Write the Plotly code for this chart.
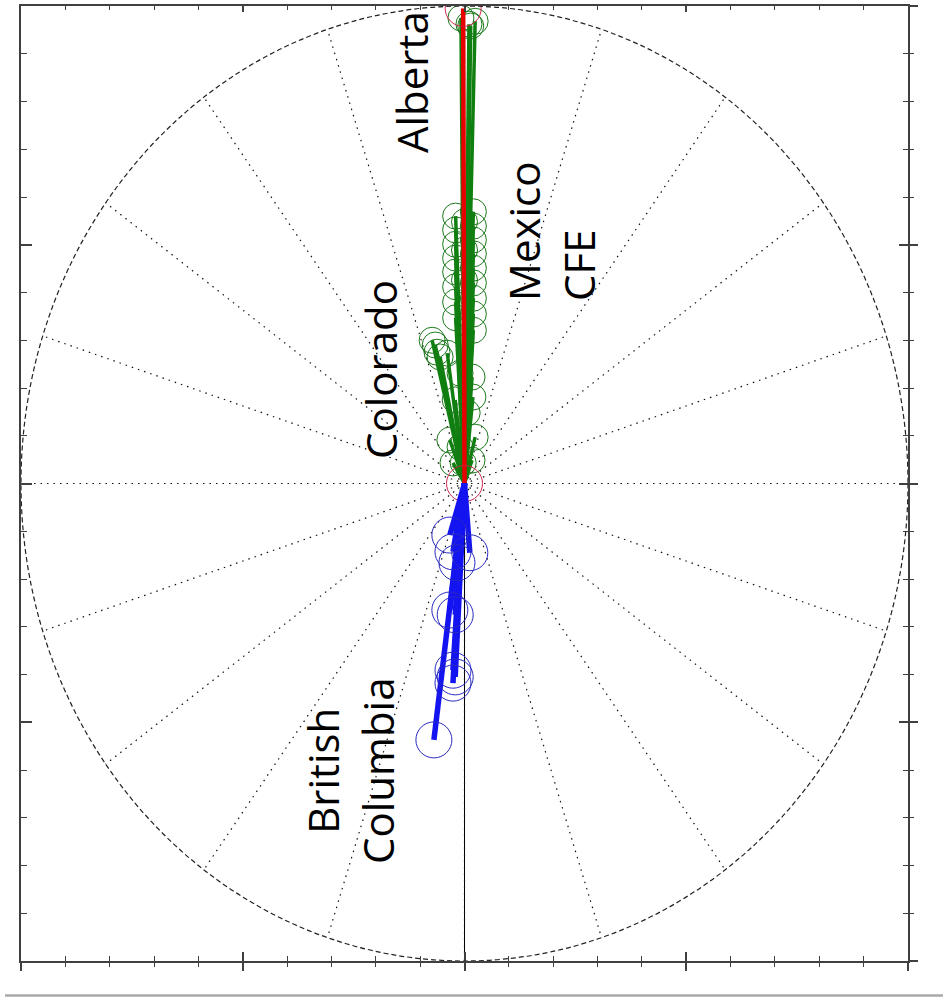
import math
import plotly.graph_objects as go

# Phasor components (real, imaginary), per-unit of the reference circle
alberta_re = [-0.003, 0.000]
alberta_im = [0.995, 0.000]

colorado_re = [-0.008, 0.024, 0.014, 0.010,
               -0.020, -0.020, -0.020, -0.020, -0.020, -0.020, -0.020, -0.020,
               0.020, 0.020, 0.020, 0.020, 0.020, 0.020, 0.020, 0.020, 0.020,
               0.000, 0.000, 0.000,
               -0.066, -0.062, -0.055, -0.073, -0.039,
               0.017, 0.019, -0.021, -0.033, 0.024, -0.026, 0.017, -0.010, 0.006, -0.010, -0.003]
colorado_im = [0.975, 0.968, 0.958, 0.962,
               0.560, 0.531, 0.501, 0.472, 0.443, 0.412, 0.380, 0.347,
               0.569, 0.539, 0.510, 0.481, 0.451, 0.420, 0.388, 0.355, 0.321,
               0.548, 0.489, 0.426,
               0.290, 0.275, 0.265, 0.300, 0.273,
               0.223, 0.181, 0.175, 0.091, 0.097, 0.043, 0.049, 0.231, 0.148, 0.076, 0.043]

bc_re = [-0.069, -0.021, -0.026, -0.026, -0.033, -0.021, -0.033, -0.026, 0.012, -0.017]
bc_im = [-0.537, -0.405, -0.418, -0.391, -0.265, -0.275, -0.108, -0.143, -0.145, -0.166]

# Grid: radial spokes every 18 degrees
spoke_angles = list(range(0, 360, 18))

# Region labels: text, position, alignment
labels = [
    ("Alberta", -0.118, 0.841, "center"),
    ("Mexico<br>CFE", 0.195, 0.529, "left"),
    ("Colorado", -0.188, 0.238, "center"),
    ("British<br>Columbia", -0.258, -0.602, "center"),
]


def spokes(re, im):
    xs, ys = [], []
    for a, b in zip(re, im):
        xs += [0, a, None]
        ys += [0, b, None]
    return xs, ys


fig = go.Figure()

# Dotted radial grid
gx, gy = [], []
for a in spoke_angles:
    r = math.radians(a)
    gx += [0, math.cos(r), None]
    gy += [0, math.sin(r), None]
fig.add_trace(go.Scatter(x=gx, y=gy, mode="lines", hoverinfo="skip",
                         line=dict(color="#111111", width=1.2, dash="1.5px,5px"),
                         showlegend=False))

# Unit circle
fig.add_shape(type="circle", xref="x", yref="y", x0=-1, y0=-1, x1=1, y1=1,
              line=dict(color="#222222", width=1.2, dash="5px,3px"), layer="above")

groups = [
    (colorado_re, colorado_im, "#0f7f0f", 3.5, "#1c7a1c", 26),
    (alberta_re, alberta_im, "#e80000", 4.5, "rgba(205,30,70,0.95)", 36),
    (bc_re, bc_im, "#1414f0", 5.5, "#2a2ac0", 36),
]
for re, im, lc, lw, mc, ms in groups:
    xs, ys = spokes(re, im)
    fig.add_trace(go.Scatter(x=xs, y=ys, mode="lines", hoverinfo="skip",
                             line=dict(color=lc, width=lw), showlegend=False))
    fig.add_trace(go.Scatter(x=re, y=im, mode="markers", hoverinfo="skip",
                             marker=dict(symbol="circle-open", size=ms,
                                         color=mc, line=dict(width=1, color=mc)),
                             showlegend=False))

# Empty traces so the overlaid frame axes are rendered
for xa, ya in [("x2", "y2"), ("x3", "y3")]:
    fig.add_trace(go.Scatter(x=[None], y=[None], xaxis=xa, yaxis=ya,
                             mode="markers", hoverinfo="skip", showlegend=False))

for text, x, y, al in labels:
    fig.add_annotation(x=x, y=y, xref="x", yref="y", text=text, showarrow=False,
                       textangle=-90, align=al,
                       font=dict(family="Open Sans", size=42, color="black"))

axc = "#404040"
common = dict(range=[-1, 1], showgrid=False, showticklabels=False, zeroline=False,
              tick0=0, dtick=0.5, tickcolor=axc, tickwidth=1.5)


def minor(side, length):
    return dict(dtick=0.1, tick0=0, ticks=side, ticklen=length, tickcolor=axc, tickwidth=1.2)


fig.update_layout(
    width=943, height=1005,
    margin=dict(l=21, r=35, t=6, b=44),
    paper_bgcolor="white", plot_bgcolor="white",
    xaxis=dict(**{k: v for k, v in common.items() if k != "zeroline"},
               side="bottom", anchor="y", showline=True,
               linecolor=axc, linewidth=1.5, ticks="inside", ticklen=9,
               minor=minor("inside", 5),
               zeroline=True, zerolinecolor="black", zerolinewidth=1),
    yaxis=dict(**common, side="left", anchor="x", showline=True,
               linecolor=axc, linewidth=1.5, ticks="inside", ticklen=11,
               minor=minor("inside", 6)),
    # bottom ticks crossing outward, right frame crossing ticks
    xaxis2=dict(**common, side="bottom", overlaying="x", anchor="y2", showline=False,
                ticks="outside", ticklen=9, minor=minor("outside", 5)),
    yaxis2=dict(**common, side="right", overlaying="y", anchor="x2", showline=True,
                linecolor=axc, linewidth=1.5, ticks="inside", ticklen=9,
                minor=minor("inside", 5)),
    # top frame and right outward ticks
    xaxis3=dict(**common, side="top", overlaying="x", anchor="y3", showline=True,
                linecolor=axc, linewidth=1.5, ticks="inside", ticklen=6,
                minor=minor("inside", 4)),
    yaxis3=dict(**common, side="right", overlaying="y", anchor="x3", showline=False,
                ticks="outside", ticklen=9, minor=minor("outside", 5)),
)

# Separator rule beneath the chart
fig.add_shape(type="line", xref="paper", yref="paper", x0=-0.018, x1=1.04,
              y0=-0.036, y1=-0.036, line=dict(color="#a8a8a8", width=2.5))

fig.write_html("out.html")
